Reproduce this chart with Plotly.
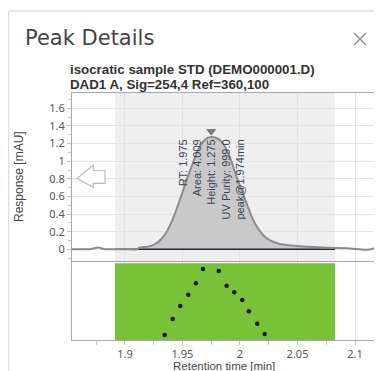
import plotly.graph_objects as go

# ---------------- data ----------------
signal_time = [1.8522, 1.8609, 1.8696, 1.8768, 1.8826, 1.8913, 1.9000, 1.9104, 1.9130, 1.9200,
               1.9261, 1.9319, 1.9363, 1.9406, 1.9450, 1.9493, 1.9537, 1.9580, 1.9623, 1.9667,
               1.9710, 1.9750, 1.9800, 1.9841, 1.9884, 1.9928, 1.9971, 2.0015, 2.0058, 2.0102,
               2.0145, 2.0203, 2.0261, 2.0348, 2.0463, 2.0637, 2.0809, 2.0957, 2.1102, 2.1232]
signal_resp = [0.00, 0.00, 0.00, 0.02, 0.00, 0.00, 0.00, 0.00, 0.02, 0.03,
               0.06, 0.12, 0.20, 0.31, 0.46, 0.62, 0.79, 0.94, 1.09, 1.20,
               1.26, 1.275, 1.26, 1.22, 1.13, 0.99, 0.82, 0.67, 0.52, 0.37,
               0.26, 0.16, 0.10, 0.06, 0.04, 0.025, 0.015, 0.01, -0.005, 0.03]

peak_start = 1.8913
peak_end = 2.0826
peak_rt = 1.975
peak_height = 1.275
peak_labels = ["RT: 1.975", "Area: 4.009", "Height: 1.275", "UV Purity: 999.0", "peak@1.974min"]

purity_time = [1.9345, 1.9415, 1.9481, 1.9551, 1.9617, 1.9678, 1.9815, 1.9884, 1.9950,
               2.0020, 2.0078, 2.0150, 2.0215]
purity_value = [6.4, 26.9, 43.6, 58.1, 72.7, 91.0, 88.5, 69.6, 61.2, 51.3, 36.8, 20.9, 7.7]

x_tick_vals = [1.9, 1.95, 2.0, 2.05, 2.1]
x_tick_text = ["1.9", "1.95", "2", "2.05", "2.1"]
y_tick_vals = [0, 0.2, 0.4, 0.6, 0.8, 1.0, 1.2, 1.4, 1.6]
y_tick_text = ["0", "0.2", "0.4", "0.6", "0.8", "1", "1.2", "1.4", "1.6"]

title_main = "Peak Details"
title_sub = ["isocratic sample STD (DEMO000001.D)", "DAD1 A, Sig=254,4 Ref=360,100"]
x_title = "Retention time [min]"
y_title = "Response [mAU]"

# ---------------- layout helpers ----------------
# The page body has an 8px default margin, so the figure starts at (8, 8) in the window.
OX, OY = 8, 8
W, H = 382 - OX, 371 - OY
# plot area in window pixels: x 72..380, y 93..340
ML, MR, MT, MB = 72 - OX, (382 - 380), 93 - OY, (371 - 340)
PW, PH = W - ML - MR, H - MT - MB


def px(x):
    return (x - OX - ML) / PW


def py(y):
    return (H - MB - (y - OY)) / PH


fig = go.Figure()

# integration window green (lower), drawn as a trace above gridlines
fig.add_trace(go.Scatter(x=[peak_start, peak_end, peak_end, peak_start, peak_start],
                         y=[0, 0, 98.5, 98.5, 0], mode="lines", fill="toself",
                         fillcolor="#77c236", line=dict(width=0), hoverinfo="skip",
                         xaxis="x2", yaxis="y2", showlegend=False))

# peak fill (within integration window)
in_win = [(t, r) for t, r in zip(signal_time, signal_resp) if peak_start <= t <= peak_end]
fill_t = [peak_start] + [t for t, _ in in_win] + [peak_end]
fill_r = [0] + [max(r, 0) for _, r in in_win] + [0]
fig.add_trace(go.Scatter(x=fill_t, y=fill_r, mode="lines", fill="tozeroy",
                         fillcolor="#c9c9c9", line=dict(width=0), hoverinfo="skip",
                         xaxis="x", yaxis="y", showlegend=False))
# baseline
fig.add_trace(go.Scatter(x=[peak_start, peak_end], y=[0, 0], mode="lines",
                         line=dict(color="#1d2b3a", width=1.5), xaxis="x", yaxis="y",
                         showlegend=False))
# signal
fig.add_trace(go.Scatter(x=signal_time, y=signal_resp, mode="lines",
                         line=dict(color="#8c8c8c", width=2, shape="spline", smoothing=0.6),
                         xaxis="x", yaxis="y", showlegend=False))
# apex marker
fig.add_trace(go.Scatter(x=[peak_rt], y=[peak_height + 0.065], mode="markers",
                         marker=dict(symbol="triangle-down", size=9, color="#7a7a7a"),
                         xaxis="x", yaxis="y", showlegend=False))
# purity dots
fig.add_trace(go.Scatter(x=purity_time, y=purity_value, mode="markers",
                         marker=dict(size=4.5, color="#141c2c"),
                         xaxis="x2", yaxis="y2", showlegend=False))

split_lo = py(262)
split_hi = py(261)

axis_line = "#a3a6b6"
grid = "#e3e3e3"
tickfont = dict(family="Noto Sans, Open Sans, sans-serif", size=11, color="#555555")
ytitlefont = dict(family="Liberation Sans, Arial, sans-serif", size=12, color="#444444")
xtitlefont = dict(family="Liberation Sans, Arial, sans-serif", size=11.5, color="#444444")

fig.update_layout(
    width=W, height=H,
    margin=dict(l=ML, r=MR, t=MT, b=MB, autoexpand=False),
    paper_bgcolor="white", plot_bgcolor="white",
    xaxis=dict(domain=[0, 1], range=[1.854, 2.1217], anchor="y",
               showticklabels=False, ticks="", showgrid=True, gridcolor=grid,
               tickvals=x_tick_vals, zeroline=False,
               showline=True, mirror=True, linecolor=axis_line, linewidth=1),
    yaxis=dict(domain=[split_hi, 1], range=[-0.133, 1.774], anchor="x",
               tickvals=y_tick_vals, ticktext=y_tick_text, tickfont=tickfont,
               ticks="outside", ticklen=4, tickcolor="#c0c0c0",
               minor=dict(dtick=0.1, tick0=0, ticks="outside", ticklen=3, tickcolor="#c8c8c8", showgrid=False),
               showgrid=True, gridcolor=grid, zeroline=False,
               showline=True, mirror=True, linecolor=axis_line, linewidth=1),
    xaxis2=dict(domain=[0, 1], range=[1.854, 2.1217], anchor="y2",
                tickvals=x_tick_vals, ticktext=x_tick_text, tickfont=tickfont,
                ticks="outside", ticklen=4, tickcolor="#c0c0c0",
                minor=dict(dtick=0.025, tick0=1.9, ticks="outside", ticklen=4, tickcolor="#c8c8c8", showgrid=False),
                showgrid=True, gridcolor=grid, zeroline=False,
                showline=True, mirror=True, linecolor=axis_line, linewidth=1),
    yaxis2=dict(domain=[0, split_lo], range=[0, 100], anchor="x2",
                showticklabels=False, ticks="", showgrid=False, zeroline=False,
                showline=True, mirror=True, linecolor=axis_line, linewidth=1),
)

shapes = [
    # integration window shading (upper)
    dict(type="rect", xref="x", yref="y domain", x0=peak_start, x1=peak_end, y0=0, y1=1,
         fillcolor="#efefef", line=dict(width=0), layer="below"),
    # dialog frame
    dict(type="line", xref="paper", yref="paper", x0=px(8.5), x1=px(8.5), y0=py(11), y1=py(372),
         line=dict(color="#dedede", width=1.5)),
    dict(type="line", xref="paper", yref="paper", x0=px(8.5), x1=px(383), y0=py(11), y1=py(11),
         line=dict(color="#dedede", width=1.5)),
    # close X
    dict(type="line", xref="paper", yref="paper", x0=px(354), x1=px(366), y0=py(33), y1=py(45),
         line=dict(color="#8a8a8a", width=1.2)),
    dict(type="line", xref="paper", yref="paper", x0=px(354), x1=px(366), y0=py(45), y1=py(33),
         line=dict(color="#8a8a8a", width=1.2)),
]
arrow_pts = [(77.3, 178.3), (93.3, 165), (93.3, 170.5), (105, 170.5), (105, 183.3), (93.3, 183.3), (93.3, 187.5)]
path = "M " + " L ".join(f"{px(a):.5f},{py(b):.5f}" for a, b in arrow_pts) + " Z"
shapes.append(dict(type="path", xref="paper", yref="paper", path=path,
                   fillcolor="white", line=dict(color="#bdbdbd", width=1.2), layer="above"))
fig.update_layout(shapes=shapes)

fig.add_annotation(text=title_main, xref="paper", yref="paper", x=px(23), y=py(38),
                   xanchor="left", yanchor="middle", showarrow=False,
                   font=dict(family="DejaVu Sans, sans-serif", size=21, color="#444444"))
fig.add_annotation(text="<b>" + title_sub[0] + "</b>", xref="paper", yref="paper",
                   x=px(68), y=py(70), xanchor="left", yanchor="middle", showarrow=False,
                   font=dict(family="Liberation Sans, Arial, sans-serif", size=13.3, color="#333333"))
fig.add_annotation(text="<b>" + title_sub[1] + "</b>", xref="paper", yref="paper",
                   x=px(68), y=py(84), xanchor="left", yanchor="middle", showarrow=False,
                   font=dict(family="Liberation Sans, Arial, sans-serif", size=13.3, color="#333333"))
fig.add_annotation(text=x_title, xref="paper", yref="paper", x=px(223.5), y=py(366),
                   xanchor="center", yanchor="middle", showarrow=False, font=xtitlefont)
fig.add_annotation(text=y_title, xref="paper", yref="paper", x=px(19), y=py(177),
                   xanchor="center", yanchor="middle", textangle=-90, showarrow=False, font=ytitlefont)
fig.add_annotation(text="<br>".join(peak_labels), xref="x", yref="y",
                   x=peak_rt, y=peak_height - 0.005, textangle=-90, align="right",
                   xanchor="center", yanchor="top", showarrow=False,
                   font=dict(family="Liberation Sans, Arial, sans-serif", size=11, color="#3c4654"))

fig.write_html("out.html")
